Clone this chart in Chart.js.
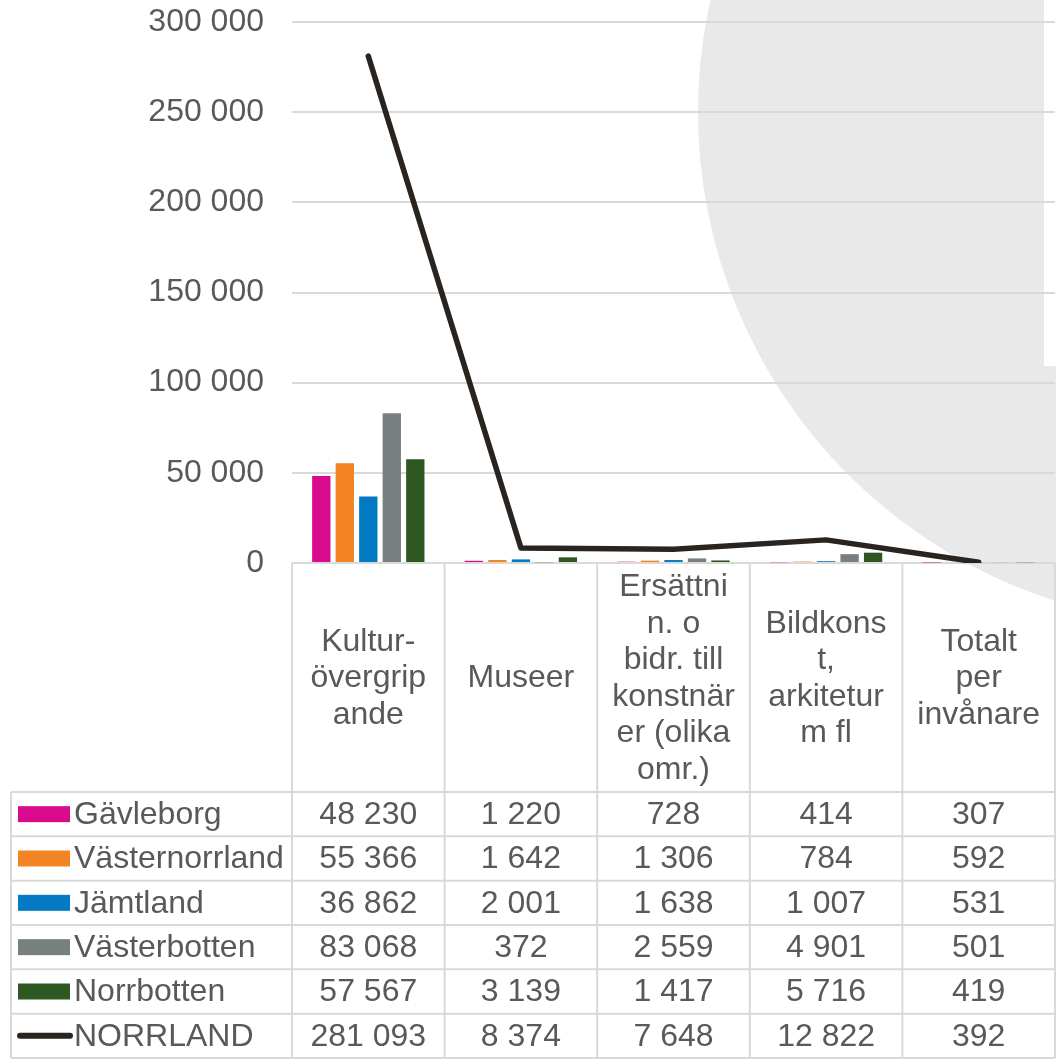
<!DOCTYPE html>
<html><head><meta charset="utf-8">
<script src="https://cdn.jsdelivr.net/npm/chart.js@4/dist/chart.umd.min.js"></script>
<style>html,body{margin:0;padding:0;background:#fff;}canvas{display:block}</style>
</head><body>
<canvas id="c" width="1056" height="1059"></canvas>
<script>
// ---- data ----
const categories = [
  ["Kultur-", "övergrip", "ande"],
  ["Museer"],
  ["Ersättni", "n. o", "bidr. till", "konstnär", "er (olika", "omr.)"],
  ["Bildkons", "t,", "arkitetur", "m fl"],
  ["Totalt", "per", "invånare"]
];
const seriesNames = ["Gävleborg", "Västernorrland", "Jämtland", "Västerbotten", "Norrbotten", "NORRLAND"];
const gavleborg      = [48230, 1220, 728, 414, 307];
const vasternorrland = [55366, 1642, 1306, 784, 592];
const jamtland       = [36862, 2001, 1638, 1007, 531];
const vasterbotten   = [83068, 372, 2559, 4901, 501];
const norrbotten     = [57567, 3139, 1417, 5716, 419];
const norrland       = [281093, 8374, 7648, 12822, 392];
const yTickValues = [0, 50000, 100000, 150000, 200000, 250000, 300000];

const colors = ["#d90b8c", "#f28424", "#0279c2", "#78807f", "#2f5721", "#29241f"];
const FONT = "'Liberation Sans', Arial, sans-serif";
const TXT = "#595959";
const GRID = "#d9d9d9";
const FS = 32;

function fmt(v) {
  return String(Math.round(v)).replace(/\B(?=(\d{3})+(?!\d))/g, " ");
}

const barSeries = [gavleborg, vasternorrland, jamtland, vasterbotten, norrbotten];
const datasets = [{
  type: "line",
  label: seriesNames[5],
  data: norrland,
  borderColor: colors[5],
  backgroundColor: colors[5],
  borderWidth: 5.5,
  pointRadius: 0,
  tension: 0,
  borderCapStyle: "round",
  borderJoinStyle: "round",
  order: 0
}];
barSeries.forEach((d, i) => datasets.push({
  type: "bar",
  label: seriesNames[i],
  data: d,
  backgroundColor: colors[i],
  borderWidth: 0,
  categoryPercentage: 0.77,
  barPercentage: 0.78,
  order: 1
}));

const rowValues = [gavleborg, vasternorrland, jamtland, vasterbotten, norrbotten, norrland];

const backgroundPlugin = {
  id: "bg",
  beforeDraw(chart) {
    const ctx = chart.ctx;
    ctx.save();
    ctx.fillStyle = "#e9e9e9";
    ctx.beginPath();
    ctx.arc(1211, 112, 513, 0, Math.PI * 2);
    ctx.fill();
    ctx.fillStyle = "#ffffff";
    ctx.fillRect(1044, 0, 12, 366);
    ctx.restore();
  }
};

const tablePlugin = {
  id: "table",
  afterDraw(chart) {
    const ctx = chart.ctx;
    const area = chart.chartArea;
    const xs = chart.scales.x;
    const n = categories.length;
    const colW = (area.right - area.left) / n;
    const top = area.bottom;
    const headerH = 229;
    const rowH = (1058 - (top + headerH)) / rowValues.length;
    const tableLeft = 11;
    const bodyTop = top + headerH;
    const bottom = bodyTop + rowH * rowValues.length;

    ctx.save();
    ctx.strokeStyle = GRID;
    ctx.lineWidth = 2;
    for (let i = 0; i <= n; i++) {
      const x = area.left + i * colW;
      ctx.beginPath(); ctx.moveTo(x, top); ctx.lineTo(x, bottom); ctx.stroke();
    }
    ctx.beginPath(); ctx.moveTo(tableLeft, bodyTop); ctx.lineTo(tableLeft, bottom); ctx.stroke();
    for (let r = 0; r <= rowValues.length; r++) {
      const y = bodyTop + r * rowH;
      ctx.beginPath(); ctx.moveTo(tableLeft, y); ctx.lineTo(area.right, y); ctx.stroke();
    }

    ctx.fillStyle = TXT;
    ctx.font = FS + "px " + FONT;
    ctx.textAlign = "center";
    ctx.textBaseline = "middle";
    const lh = 36.5;
    const hc = top + headerH / 2;
    categories.forEach((lines, i) => {
      const cx = xs.getPixelForValue(i);
      const start = hc - (lines.length - 1) * lh / 2;
      lines.forEach((t, k) => ctx.fillText(t, cx, start + k * lh + 1));
    });
    rowValues.forEach((vals, r) => {
      const cy = bodyTop + r * rowH + rowH / 2;
      vals.forEach((v, i) => {
        ctx.fillText(fmt(v), xs.getPixelForValue(i), cy + 1);
      });
      if (r < 5) {
        ctx.fillStyle = colors[r];
        ctx.fillRect(18, cy - 8, 52, 16);
      } else {
        ctx.strokeStyle = colors[r];
        ctx.lineWidth = 6;
        ctx.lineCap = "round";
        ctx.beginPath(); ctx.moveTo(20, cy); ctx.lineTo(70, cy); ctx.stroke();
      }
      ctx.fillStyle = TXT;
      ctx.textAlign = "left";
      ctx.fillText(seriesNames[r], 74, cy + 1);
      ctx.textAlign = "center";
    });
    ctx.restore();
  }
};

new Chart(document.getElementById("c"), {
  data: { labels: categories, datasets },
  options: {
    responsive: false,
    animation: false,
    devicePixelRatio: 1,
    layout: { padding: { left: 0, right: 1, top: 22, bottom: 496 } },
    plugins: { legend: { display: false }, tooltip: { enabled: false }, title: { display: false } },
    scales: {
      x: { display: false },
      y: {
        min: 0, max: 300000,
        afterBuildTicks(scale) { scale.ticks = yTickValues.map(v => ({ value: v })); },
        afterFit(scale) { scale.width = 292; scale.paddingTop = 0; scale.paddingBottom = 0; },
        border: { display: false },
        grid: { color: GRID, lineWidth: 2, drawTicks: false },
        ticks: {
          padding: 28,
          color: TXT,
          font: { family: FONT, size: FS },
          callback: v => fmt(v)
        }
      }
    }
  },
  plugins: [backgroundPlugin, tablePlugin]
});
</script>
</body></html>
